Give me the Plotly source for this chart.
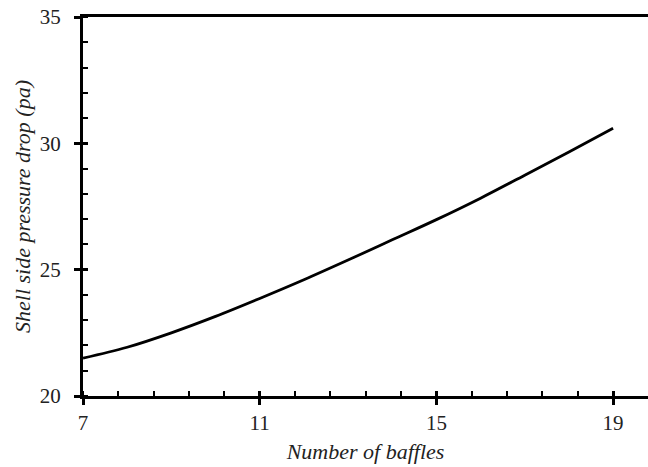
import plotly.graph_objects as go

baffles = [7, 8, 9, 10, 11, 12, 13, 14, 15, 16, 17, 18, 19]
pressure_drop = [21.5, 21.93, 22.5, 23.15, 23.86, 24.6, 25.38, 26.18, 26.98, 27.83, 28.74, 29.66, 30.6]

x_ticks = [7, 11, 15, 19]
y_ticks = [20, 25, 30, 35]
x_title = "Number of baffles"
y_title = "Shell side pressure drop (pa)"

xr = [7, 19.79]
yr = [20, 35]
font = "Liberation Serif, Times New Roman, serif"
fs = 21
tfs = 22

fig = go.Figure()
fig.add_trace(go.Scatter(x=baffles, y=pressure_drop, mode="lines",
                         line=dict(color="black", width=2.8, shape="spline"),
                         showlegend=False, hoverinfo="skip"))
# helper invisible trace on overlay axes
fig.add_trace(go.Scatter(x=[None], y=[None], xaxis="x2", yaxis="y2", showlegend=False))

fig.update_layout(
    width=648, height=467,
    margin=dict(l=83, r=0, t=17, b=71, autoexpand=False),
    paper_bgcolor="white", plot_bgcolor="white",
    font=dict(family=font, size=fs, color="#222"),
    xaxis=dict(range=xr, showgrid=False, zeroline=False, automargin=False,
               showline=True, linecolor="black", linewidth=3, mirror=True,
               tickmode="array", tickvals=x_ticks, ticks="outside",
               ticklen=6, tickwidth=3, tickcolor="black",
               minor=dict(ticks="inside", tick0=7, dtick=0.8, ticklen=5,
                          tickwidth=2, tickcolor="black", showgrid=False),
               title=dict(text=x_title, font=dict(family=font, size=tfs, style="italic"), standoff=10),
               tickfont=dict(family=font, size=fs)),
    yaxis=dict(range=yr, showgrid=False, zeroline=False, automargin=False,
               showline=True, linecolor="black", linewidth=3,
               tickmode="array", tickvals=y_ticks, ticks="outside",
               ticklen=6, tickwidth=3, tickcolor="black",
               ticklabelstandoff=9,
               minor=dict(ticks="inside", tick0=20, dtick=1, ticklen=5,
                          tickwidth=2, tickcolor="black", showgrid=False),
               title=dict(text=y_title, font=dict(family=font, size=tfs, style="italic"), standoff=4),
               tickfont=dict(family=font, size=fs)),
    xaxis2=dict(range=xr, overlaying="x", anchor="y", side="bottom",
                showgrid=False, zeroline=False, showline=False,
                tickmode="array", tickvals=x_ticks, ticks="inside",
                ticklen=5, tickwidth=3, tickcolor="black", showticklabels=False),
    yaxis2=dict(range=yr, overlaying="y", anchor="x", side="left",
                showgrid=False, zeroline=False, showline=False,
                tickmode="array", tickvals=y_ticks, ticks="inside",
                ticklen=5, tickwidth=3, tickcolor="black", showticklabels=False),
)

fig.write_html("out.html", config={"displayModeBar": False},
               post_script="document.body.style.margin='0';document.body.style.padding='0';")
